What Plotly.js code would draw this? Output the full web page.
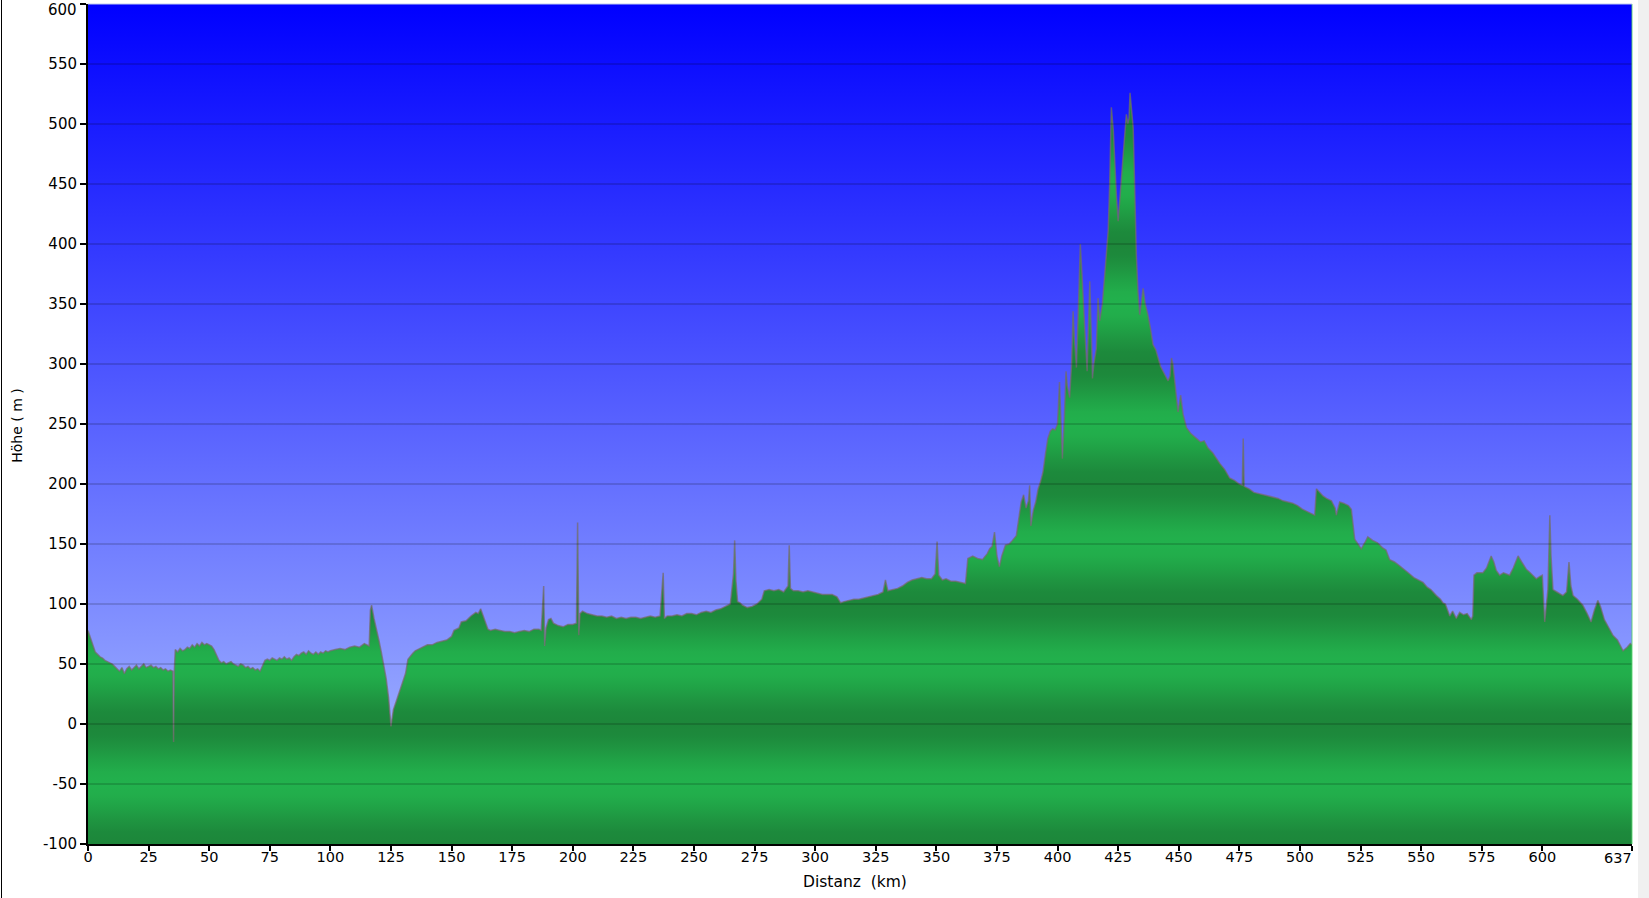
<!DOCTYPE html>
<html><head><meta charset="utf-8">
<script src="https://cdn.plot.ly/plotly-3.0.1.min.js"></script>
<style>
html,body{margin:0;padding:0;background:#f0f0f0;overflow:hidden;}
#wrap{position:absolute;left:0;top:0;width:1638px;height:898px;background:#fff;}
#edge{position:absolute;left:1px;top:0;width:1px;height:898px;background:#000;}
#chart{position:absolute;left:0;top:0;width:1638px;height:898px;}
</style></head><body>
<div id="wrap"><div id="chart"></div><div id="edge"></div></div>
<script>
// Distance along route (km)
const distKm = [
 0,1,2,3,4,5,6,7,8,9,10,11,12,13,14,15,16,17,18,19,20,21,22,23,24,25,26,27,28,29,30,31,32,33,34,35,
 35.3,35.6,36,37,38,39,40,41,42,43,44,45,46,47,48,49,50,51,52,53,54,55,56,57,58,59,60,61,62,63,64,65,66,67,68,69,70,71,
 72,73,74,75,76,77,78,79,80,81,82,83,84,85,86,87,88,89,90,91,92,93,94,95,96,97,98,99,100,102,104,106,108,110,112,114,115,116,
 116.5,117,118,119,120,121,122,123,124,124.6,125,125.5,126,127,128,129,130,131,132,133,134,135,136,138,140,142,144,146,148,150,
 151,153,154,156,158,160,161,162,163,164,165,166,168,170,172,174,176,178,180,182,184,186,187,188,188.4,189,190,191,192,194,196,198,200,201.5,
 202,202.5,203,204,206,208,210,212,214,216,218,220,222,224,226,228,230,232,234,236,237.3,237.8,239,241,243,245,247,249,251,253,255,257,259,261,263,265,
 266.3,266.8,267.3,268,269,270,272,274,276,278,279,281,283,285,287,288.8,289.3,289.8,291,293,295,297,299,301,303,305,307,309,310.5,
 312,314,316,318,320,322,324,326,328,329,330,332,334,336,338,340,342,344,346,348,349.5,350.3,351,352.5,354,356,358,360,362,
 363,365,367,369,371,372,373,374,375,376,377,378.5,380,381,383,384,385,386,387,388,388.5,389,390,391,392,393,394,395,396,397,398,399,400,
 400.8,401.5,402,402.8,403.5,404,405,405.8,406.4,407,
 407.8,408.5,409.4,410.2,411,411.5,412.2,413.3,414,414.4,
 415,416,416.7,417.4,418.5,419.5,420.2,420.9,421.5,422.2,
 423,423.6,424.3,425,425.7,426.3,427.3,428,428.4,429,
 429.5,429.9,430.5,431.2,431.8,432.5,433.2,433.9,434.5,435.3,
 436.2,437.3,438.3,439.4,440.5,441.5,442.5,443.5,444.5,445.6,
 446.4,447,447.6,448.6,449.7,450.8,451.8,453.2,
 455,457.3,459,460.5,462.1,464,465.5,467,469,471,473,475,476.2,476.6,477,479,481,483,485,487,489,491,493,495,497,499,501,503,505,506.1,506.8,508,509.5,
 511,513,514.5,515,516.4,518,520,521.2,522.6,524,525.3,527,528,530,532,534,535.5,537,539,541,543,545.3,547,549,550.8,552.5,554,556.3,558,559,560,561.8,563,564.5,565.9,567.5,569,570.7,
 571.3,571.8,573,575.5,577,578.9,580,581,582.4,584,586.5,588,590,591.5,593.4,595,597.5,599,600,600.6,601,601.7,602.3,602.8,603.1,603.6,604.4,606,608.5,610,611,611.8,612.7,614.5,616.7,618.5,620.1,621.5,622.9,624,625.6,627.5,629.1,631,633.3,635,636.3,637
];
// Elevation (m)
const elevM = [
 78,72,66,60,58,56,55,53,52,51,50,48,46,44,47,42,46,48,45,47,49,46,48,50,47,48,49,47,48,46,47,45,46,44,45,44,
 -15,44,62,60,63,61,62,64,63,66,64,67,65,68,66,67,66,65,62,58,53,51,52,50,51,52,50,49,48,50,49,47,48,46,47,45,46,44,
 48,53,54,53,55,54,53,55,54,56,54,55,53,56,58,57,59,60,58,61,59,58,60,58,60,59,61,60,61,62,63,62,64,65,64,67,66,65,
 95,99,88,80,70,60,50,38,22,8,-2,5,12,18,24,30,36,42,54,57,59,61,62,64,66,66,68,69,70,73,
 78,80,85,86,90,93,92,96,90,85,79,78,79,78,77,77,76,77,78,77,79,79,78,115,65,80,87,88,84,82,81,83,83,84,
 168,74,92,94,92,91,90,90,89,90,88,89,88,89,89,88,89,90,89,90,126,88,90,90,91,90,92,92,91,93,94,93,95,96,98,100,
 125,153,120,102,101,99,97,98,100,104,111,112,111,112,110,115,149,113,111,111,110,111,110,109,108,108,108,106,101,
 102,103,104,104,105,106,107,108,110,120,111,112,113,115,118,120,121,122,121,121,125,152,124,120,121,119,119,118,117,
 138,140,138,137,142,146,148,160,140,131,140,149,150,152,157,170,185,191,180,186,199,165,178,185,196,202,210,225,238,244,246,245,250,
 285,240,221,255,294,282,272,300,344,320,
 297,340,400,370,330,319,294,369,320,288,
 300,313,355,336,350,375,392,411,450,514,
 495,467,440,419,435,453,480,495,508,500,
 505,526,510,497,450,391,360,341,350,363,
 350,341,330,316,312,305,298,294,290,286,
 290,305,300,280,260,274,258,247,
 242,238,235,236,230,226,221,217,212,205,203,200,199,238,198,196,193,192,191,190,189,188,186,185,184,182,179,177,175,174,196,193,190,
 188,186,180,174,185,184,182,179,154,150,146,152,156,153,151,147,145,137,135,132,129,125,122,120,118,114,112,107,104,101,100,90,94,88,93,91,92,87,
 90,124,126,126,130,140,135,128,124,126,124,130,140,135,129,126,121,123,124,100,85,100,112,150,174,140,112,110,107,110,135,115,107,104,99,92,85,95,103,98,87,80,74,70,61,64,67,66
];
const xTickVals = [0,25,50,75,100,125,150,175,200,225,250,275,300,325,350,375,400,425,450,475,500,525,550,575,600,637];
const yTickVals = [-100,-50,0,50,100,150,200,250,300,350,400,450,500,550,600];
const xRange = [0, 637];
const yRange = [-100, 600];

const FONT = 'DejaVu Sans, Verdana, sans-serif';
const XFONT = {family: FONT, size: 14.5, color: '#000'};
const YFONT = {family: FONT, size: 15, color: '#000'};

// green banded fill colour scale (dark at every 100 m, light at every +50 m)
const dark = [29,134,58], light = [34,177,77];
const greenScale = [];
for (let v = yRange[0]; v <= yRange[1]; v += 10) {
  const ph = ((v % 100) + 100) % 100;
  const f = (1 - Math.cos(2 * Math.PI * ph / 100)) / 2;
  const c = dark.map((d, i) => Math.round(d + (light[i] - d) * f));
  greenScale.push([(v - yRange[0]) / (yRange[1] - yRange[0]), `rgb(${c[0]},${c[1]},${c[2]})`]);
}

const skyTrace = {
  x: [xRange[0], xRange[1], xRange[1], xRange[0], xRange[0]],
  y: [yRange[0], yRange[0], yRange[1], yRange[1], yRange[0]],
  type: 'scatter', mode: 'lines', fill: 'toself',
  line: {width: 0},
  fillgradient: {type: 'vertical', start: yRange[0], stop: yRange[1],
    colorscale: [[0, 'rgb(176,196,255)'], [1, 'rgb(0,0,255)']]},
  hoverinfo: 'skip', showlegend: false
};
const baseTrace = {
  x: xRange, y: [yRange[0], yRange[0]], type: 'scatter', mode: 'lines',
  line: {width: 0}, hoverinfo: 'skip', showlegend: false
};
const elevTrace = {
  x: distKm, y: elevM, type: 'scatter', mode: 'lines', fill: 'tonexty',
  line: {color: 'rgba(120,105,108,0.7)', width: 1.5},
  fillgradient: {type: 'vertical', start: yRange[0], stop: yRange[1], colorscale: greenScale},
  hoverinfo: 'skip', showlegend: false
};

const shapes = yTickVals.filter(v => v > yRange[0] && v < yRange[1]).map(v => ({
  type: 'line', xref: 'paper', x0: 0, x1: 1, yref: 'y', y0: v, y1: v,
  line: {color: 'rgba(0,0,0,0.3)', width: 1}, layer: 'above'
}));
shapes.push({type: 'line', xref: 'paper', x0: 1, x1: 1, yref: 'paper', y0: 0, y1: 1,
  line: {color: 'rgba(90,210,110,0.9)', width: 1}, layer: 'above'});
shapes.push({type: 'line', xref: 'paper', x0: 0, x1: 1, yref: 'paper', y0: 1, y1: 1,
  line: {color: 'rgba(190,200,240,1)', width: 1}, layer: 'above'});

// edge tick labels are nudged inward (as in the reference), drawn as annotations
const lastX = xTickVals[xTickVals.length - 1];
const topY = yTickVals[yTickVals.length - 1];

const layout = {
  width: 1638, height: 898,
  margin: {l: 88, r: 6, t: 4, b: 54},
  paper_bgcolor: '#ffffff', plot_bgcolor: '#ffffff',
  showlegend: false, hovermode: false,
  font: {family: FONT, size: 14, color: '#000'},
  xaxis: {
    range: xRange, tickvals: xTickVals, ticktext: xTickVals.map(v => v === lastX ? '' : String(v)),
    showgrid: false, zeroline: false, showline: true, linecolor: '#000', linewidth: 2,
    ticks: 'outside', ticklen: 5, tickwidth: 2, tickcolor: '#000', ticklabelstandoff: -6,
    tickfont: XFONT, fixedrange: true
  },
  yaxis: {
    range: yRange, tickvals: yTickVals, ticktext: yTickVals.map(v => v === topY ? '' : String(v)),
    showgrid: false, zeroline: false, showline: true, linecolor: '#000', linewidth: 2,
    ticks: 'outside', ticklen: 6, tickwidth: 2, tickcolor: '#000',
    tickfont: YFONT, fixedrange: true
  },
  shapes: shapes,
  annotations: [
    {text: String(lastX), xref: 'x', x: lastX, yref: 'paper', y: 0, xanchor: 'right', yanchor: 'middle',
     xshift: 2, yshift: -14, showarrow: false, font: XFONT},
    {text: String(topY), xref: 'paper', x: 0, yref: 'y', y: topY, xanchor: 'right', yanchor: 'middle',
     xshift: -9, yshift: -6, showarrow: false, font: YFONT},
    {text: 'Distanz\u00a0\u00a0(km)', xref: 'paper', yref: 'paper', x: 0.497, y: -0.0452,
     xanchor: 'center', yanchor: 'middle', showarrow: false, font: {family: FONT, size: 15.5, color: '#000'}},
    {text: 'Höhe\u00a0(\u00a0m\u00a0)', xref: 'paper', yref: 'paper', x: -0.046, y: 0.499,
     xanchor: 'center', yanchor: 'middle', textangle: -90, showarrow: false, font: {family: FONT, size: 14, color: '#000'}}
  ]
};

Plotly.newPlot('chart', [skyTrace, baseTrace, elevTrace], layout, {displayModeBar: false, staticPlot: true});
</script>
</body></html>
